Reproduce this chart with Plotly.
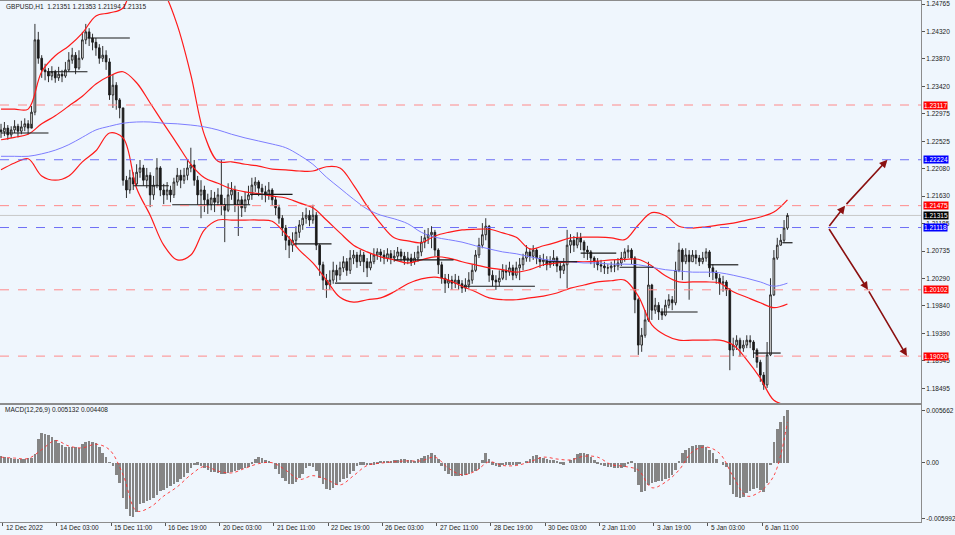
import plotly.graph_objects as go

# GBPUSD H1 chart, 12 Dec 2022 - 6 Jan 2023 (candles read as 2-hour bars)
simbolo = "GBPUSD,H1"
ultimo_ohlc = [1.21351, 1.21353, 1.21194, 1.21315]
macd_header = [0.005132, 0.004408]

primeiro_open = 1.2271
closes = [
    1.2268, 1.2274, 1.2263, 1.2271, 1.2277, 1.2269, 1.2276, 1.2281, 1.2274, 1.2300,
    1.2418, 1.2388, 1.2369, 1.2366, 1.2359, 1.2366, 1.2356, 1.2362, 1.2359, 1.2369,
    1.2385, 1.2393, 1.2372, 1.2388, 1.2418, 1.2431, 1.2421, 1.2414, 1.2405, 1.2388,
    1.2393, 1.2382, 1.2328, 1.2344, 1.2320, 1.2307, 1.2189, 1.2173, 1.2193, 1.2183,
    1.2202, 1.2209, 1.2189, 1.2197, 1.2165, 1.2181, 1.2209, 1.2173, 1.2165, 1.2173,
    1.2165, 1.2186, 1.2197, 1.2189, 1.2197, 1.2209, 1.2214, 1.2189, 1.2165, 1.2173,
    1.2157, 1.2149, 1.2160, 1.2153, 1.2165, 1.2149, 1.2140, 1.2165, 1.2173, 1.2149,
    1.2157, 1.2144, 1.2157, 1.2165, 1.2181, 1.2186, 1.2176, 1.2170, 1.2165, 1.2173,
    1.2157, 1.2144, 1.2127, 1.2111, 1.2091, 1.2083, 1.2091, 1.2104, 1.2116, 1.2127,
    1.2132, 1.2124, 1.2132, 1.2083, 1.2051, 1.2026, 1.2018, 1.2026, 1.2042, 1.2034,
    1.2046, 1.2056, 1.2042, 1.2062, 1.2067, 1.2056, 1.2067, 1.2056, 1.2046, 1.2056,
    1.2067, 1.2072, 1.2067, 1.2062, 1.2069, 1.2062, 1.2065, 1.2072, 1.2065, 1.2059,
    1.2062, 1.2056, 1.2062, 1.2072, 1.2088, 1.2095, 1.2100, 1.2104, 1.2075, 1.2051,
    1.2029, 1.2021, 1.2026, 1.2021, 1.2026, 1.2020, 1.2013, 1.2018, 1.2026, 1.2042,
    1.2067, 1.2083, 1.2100, 1.2114, 1.2034, 1.2026, 1.2023, 1.2029, 1.2042, 1.2039,
    1.2046, 1.2034, 1.2046, 1.2051, 1.2062, 1.2072, 1.2065, 1.2075, 1.2062, 1.2056,
    1.2059, 1.2051, 1.2056, 1.2062, 1.2049, 1.2042, 1.2051, 1.2083, 1.2091, 1.2083,
    1.2095, 1.2088, 1.2075, 1.2072, 1.2062, 1.2056, 1.2051, 1.2049, 1.2046, 1.2046,
    1.2049, 1.2049, 1.2054, 1.2062, 1.2072, 1.2075, 1.2062, 1.1994, 1.1920, 1.1936,
    1.1961, 1.2018, 1.1977, 1.1985, 1.1974, 1.1969, 1.1985, 1.1994, 1.1989, 1.2042,
    1.2075, 1.2056, 1.2067, 1.2056, 1.2067, 1.2062, 1.2056, 1.2062, 1.2072, 1.2046,
    1.2039, 1.2029, 1.2021, 1.2023, 1.2010, 1.1912, 1.1920, 1.1928, 1.1915, 1.1920,
    1.1928, 1.1925, 1.1912, 1.1892, 1.1871, 1.1855, 1.1904, 1.2002, 1.2062, 1.2083,
    1.2091, 1.2111, 1.21315,
]
highs = [
    1.2281, 1.2284, 1.2279, 1.2277, 1.2287, 1.2281, 1.2286, 1.2290, 1.2287, 1.2310,
    1.2444, 1.2431, 1.2393, 1.2379, 1.2372, 1.2375, 1.2369, 1.2374, 1.2369, 1.2382,
    1.2398, 1.2405, 1.2398, 1.2401, 1.2431, 1.2444, 1.2437, 1.2428, 1.2421, 1.2411,
    1.2408, 1.2401, 1.2388, 1.2362, 1.2349, 1.2323, 1.2307, 1.2196, 1.2206, 1.2202,
    1.2215, 1.2222, 1.2214, 1.2209, 1.2202, 1.2196, 1.2225, 1.2212, 1.2183, 1.2186,
    1.2180, 1.2193, 1.2209, 1.2206, 1.2209, 1.2222, 1.2242, 1.2222, 1.2196, 1.2189,
    1.2180, 1.2167, 1.2173, 1.2170, 1.2176, 1.2222, 1.2160, 1.2184, 1.2186, 1.2180,
    1.2170, 1.2163, 1.2170, 1.2180, 1.2193, 1.2194, 1.2189, 1.2183, 1.2180, 1.2186,
    1.2176, 1.2163, 1.2149, 1.2132, 1.2116, 1.2098, 1.2104, 1.2114, 1.2124, 1.2137,
    1.2144, 1.2140, 1.2149, 1.2137, 1.2085, 1.2056, 1.2036, 1.2042, 1.2056, 1.2051,
    1.2056, 1.2065, 1.2062, 1.2075, 1.2075, 1.2072, 1.2075, 1.2072, 1.2062, 1.2069,
    1.2078, 1.2078, 1.2077, 1.2075, 1.2078, 1.2075, 1.2075, 1.2080, 1.2077, 1.2072,
    1.2072, 1.2069, 1.2072, 1.2082, 1.2098, 1.2108, 1.2111, 1.2114, 1.2108, 1.2078,
    1.2056, 1.2036, 1.2036, 1.2033, 1.2036, 1.2033, 1.2026, 1.2029, 1.2039, 1.2052,
    1.2075, 1.2095, 1.2119, 1.2127, 1.2116, 1.2042, 1.2034, 1.2042, 1.2052, 1.2051,
    1.2056, 1.2051, 1.2056, 1.2062, 1.2069, 1.2083, 1.2078, 1.2083, 1.2078, 1.2067,
    1.2069, 1.2065, 1.2065, 1.2075, 1.2065, 1.2056, 1.2062, 1.2108, 1.2101, 1.2098,
    1.2104, 1.2103, 1.2091, 1.2082, 1.2075, 1.2065, 1.2062, 1.2059, 1.2056, 1.2052,
    1.2056, 1.2059, 1.2062, 1.2072, 1.2078, 1.2083, 1.2078, 1.2065, 1.1997, 1.1948,
    1.1977, 1.2056, 1.2020, 1.1997, 1.1990, 1.1980, 1.1994, 1.2003, 1.2000, 1.2056,
    1.2087, 1.2078, 1.2078, 1.2075, 1.2075, 1.2075, 1.2067, 1.2072, 1.2078, 1.2075,
    1.2052, 1.2042, 1.2036, 1.2033, 1.2026, 1.2013, 1.1932, 1.1936, 1.1932, 1.1928,
    1.1936, 1.1936, 1.1928, 1.1915, 1.1896, 1.1876, 1.1925, 1.2029, 1.2075, 1.2095,
    1.2101, 1.2124, 1.21353,
]
lows = [
    1.2258, 1.2261, 1.2255, 1.2258, 1.2266, 1.2259, 1.2264, 1.2269, 1.2264, 1.2281,
    1.2295, 1.2379, 1.2356, 1.2352, 1.2349, 1.2352, 1.2348, 1.2351, 1.2349, 1.2356,
    1.2366, 1.2379, 1.2362, 1.2369, 1.2385, 1.2411, 1.2408, 1.2401, 1.2392, 1.2379,
    1.2382, 1.2369, 1.2320, 1.2307, 1.2304, 1.2290, 1.2180, 1.2160, 1.2167, 1.2173,
    1.2180, 1.2193, 1.2180, 1.2176, 1.2145, 1.2157, 1.2176, 1.2163, 1.2150, 1.2157,
    1.2153, 1.2160, 1.2180, 1.2176, 1.2183, 1.2189, 1.2202, 1.2180, 1.2149, 1.2127,
    1.2137, 1.2134, 1.2140, 1.2137, 1.2147, 1.2132, 1.2088, 1.2137, 1.2157, 1.2137,
    1.2098, 1.2129, 1.2137, 1.2150, 1.2157, 1.2170, 1.2163, 1.2157, 1.2153, 1.2157,
    1.2147, 1.2132, 1.2118, 1.2098, 1.2075, 1.2062, 1.2072, 1.2082, 1.2095, 1.2108,
    1.2118, 1.2114, 1.2118, 1.2075, 1.2033, 1.2010, 1.1997, 1.2010, 1.2020, 1.2023,
    1.2026, 1.2039, 1.2033, 1.2036, 1.2052, 1.2046, 1.2049, 1.2039, 1.2031, 1.2042,
    1.2052, 1.2059, 1.2056, 1.2052, 1.2056, 1.2052, 1.2056, 1.2059, 1.2056, 1.2051,
    1.2052, 1.2049, 1.2051, 1.2056, 1.2065, 1.2078, 1.2085, 1.2078, 1.2065, 1.2036,
    1.2020, 1.2005, 1.2013, 1.2010, 1.2013, 1.2010, 1.2005, 1.2007, 1.2013, 1.2020,
    1.2039, 1.2062, 1.2078, 1.2091, 1.2023, 1.2016, 1.2010, 1.2016, 1.2026, 1.2026,
    1.2033, 1.2026, 1.2029, 1.2026, 1.2042, 1.2056, 1.2056, 1.2059, 1.2052, 1.2046,
    1.2049, 1.2042, 1.2046, 1.2049, 1.2039, 1.2029, 1.2036, 1.2013, 1.2070, 1.2072,
    1.2078, 1.2075, 1.2062, 1.2059, 1.2052, 1.2046, 1.2042, 1.2039, 1.2036, 1.2036,
    1.2039, 1.2039, 1.2042, 1.2049, 1.2056, 1.2062, 1.2052, 1.1972, 1.1904, 1.1909,
    1.1932, 1.1958, 1.1961, 1.1971, 1.1961, 1.1961, 1.1967, 1.1980, 1.1977, 1.1985,
    1.2039, 1.2026, 1.2052, 1.1994, 1.2056, 1.2052, 1.2049, 1.2052, 1.2056, 1.2031,
    1.2026, 1.2020, 1.2002, 1.2007, 1.2000, 1.1879, 1.1902, 1.1912, 1.1901, 1.1909,
    1.1915, 1.1915, 1.1899, 1.1883, 1.1860, 1.1847, 1.1850, 1.1902, 1.2000, 1.2059,
    1.2082, 1.2088, 1.2108,
]

# MACD main line (histogram), in units of 0.0001, one per candle
macd_pts = [
    7.5, 6, 5, 4.6, 4.4, 4.3, 4.3, 4.4, 4.8, 5.5,
    9, 26, 32, 31, 30, 28, 25, 21, 19, 17,
    17, 17, 16.5, 16, 20, 22, 23, 22.5, 21, 17,
    11, 6, 0.5, -4, -13, -22, -38, -50, -57, -59,
    -53, -45, -43, -41, -40, -38, -35, -31, -29, -27,
    -25, -23, -21, -18, -15, -11, -6, -3, -2, -4,
    -6, -8, -9.5, -10.5, -11, -12, -12, -11.5, -10, -9,
    -8, -7, -6, -5, -1, 4, 6, 5, 3, 1,
    0, -7, -12, -17, -20, -23, -23, -21, -17, -12,
    -6, -4, -5, -9, -17, -23, -28, -29, -27, -24,
    -21, -18, -16, -12, -9, -4, -2, -2, -3, -3,
    -2, -0.5, 1, 2, 2, 2, 2.5, 3, 3.5, 4,
    3, 2.5, 2, 3.5, 5, 7, 8.5, 10, 8, 4,
    -4, -9, -12, -14, -14, -14, -14, -13, -12, -10,
    -9, -7, 3, 10, 4, -2, -4, -5, -3, -2,
    -2, -2, -2, -1, 0, 2, 4, 7, 8, 6,
    5, 4, 3, 2.5, 2, -1, -2, 0, 3, 5,
    9, 10.5, 11, 9, 6, 3, -1, -3, -4, -4.5,
    -5, -5.5, -6, -5.5, -5, -1, 2, -10, -24, -32,
    -31, -24, -22, -21, -20, -20, -18, -16, -13, -8,
    2, 10, 14, 16, 18, 19, 19, 19, 17, 14,
    11, 4, 0, -2, -5, -24, -34, -37, -38, -37,
    -33, -30, -28, -27, -29, -32, -22, -3, 22, 36,
    44, 50, 56.6,
]
# signal line, every 4th candle, 0.0001 units
signal_pts = [
    6, 5, 4.5, 14, 24, 18, 16, 20, 14, -13,
    -52, -48, -36, -26, -13, -4, -9, -11, -6, -1,
    0, -8, -18, -14, -18, -24, -14, -3, -0.5, 1,
    2, 2, 6, -6, -13, -9, 1, -3, -3, 1,
    6, 4, 3, 7, 6, -2, -4, -8, -27, -21,
    -8, 12, 17, 10, -15, -36, -31, -14, 44,
]

# Bollinger bands and slow MA, every 4th candle
bb_superior = [
    1.2305, 1.2305, 1.2305, 1.2366, 1.2392, 1.2408, 1.2429, 1.2457, 1.2462, 1.2470,
    1.2524, 1.2519, 1.2496, 1.2442, 1.2361, 1.2263, 1.2220, 1.2219, 1.2215, 1.2212,
    1.2207, 1.2206, 1.2204, 1.2204, 1.2211, 1.2209, 1.2181, 1.2147, 1.2118, 1.2095,
    1.2090, 1.2087, 1.2098, 1.2104, 1.2108, 1.2109, 1.2109, 1.2103, 1.2096, 1.2077,
    1.2082, 1.2088, 1.2095, 1.2096, 1.2096, 1.2095, 1.2092, 1.2116, 1.2136, 1.2131,
    1.2114, 1.2111, 1.2113, 1.2116, 1.2119, 1.2124, 1.2129, 1.2137, 1.2157,
]
bb_media = [
    1.2255, 1.2259, 1.2264, 1.2281, 1.2294, 1.2310, 1.2326, 1.2346, 1.2359, 1.2366,
    1.2348, 1.2315, 1.2281, 1.2248, 1.2215, 1.2193, 1.2184, 1.2175, 1.2170, 1.2167,
    1.2163, 1.2160, 1.2152, 1.2144, 1.2124, 1.2103, 1.2083, 1.2072, 1.2064, 1.2059,
    1.2054, 1.2059, 1.2064, 1.2062, 1.2056, 1.2051, 1.2046, 1.2043, 1.2039, 1.2043,
    1.2051, 1.2054, 1.2056, 1.2056, 1.2057, 1.2059, 1.2060, 1.2060, 1.2049, 1.2033,
    1.2023, 1.2023, 1.2023, 1.2021, 1.2007, 1.1998, 1.1989, 1.1981, 1.1987,
]
bb_inferior = [
    1.2206, 1.2217, 1.2224, 1.2196, 1.2189, 1.2196, 1.2219, 1.2237, 1.2266, 1.2258,
    1.2176, 1.2132, 1.2083, 1.2059, 1.2067, 1.2108, 1.2124, 1.2124, 1.2124, 1.2124,
    1.2122, 1.2101, 1.2075, 1.2054, 1.2026, 1.1998, 1.1990, 1.1994, 1.1997, 1.2007,
    1.2020, 1.2028, 1.2031, 1.2026, 1.2016, 1.2007, 1.1997, 1.1994, 1.1994, 1.1997,
    1.2000, 1.2005, 1.2013, 1.2018, 1.2023, 1.2025, 1.2026, 1.2000, 1.1953, 1.1936,
    1.1928, 1.1928, 1.1928, 1.1928, 1.1920, 1.1896, 1.1866, 1.1830, 1.1822,
]
ma_lenta = [
    1.2228, 1.2228, 1.2228, 1.2232, 1.2238, 1.2247, 1.2259, 1.2271, 1.2277, 1.2282,
    1.2284, 1.2284, 1.2282, 1.2281, 1.2279, 1.2276, 1.2271, 1.2264, 1.2258, 1.2253,
    1.2248, 1.2242, 1.2230, 1.2215, 1.2194, 1.2176, 1.2158, 1.2142, 1.2132, 1.2126,
    1.2118, 1.2104, 1.2096, 1.2092, 1.2088, 1.2082, 1.2077, 1.2072, 1.2069, 1.2064,
    1.2060, 1.2057, 1.2056, 1.2054, 1.2054, 1.2052, 1.2052, 1.2051, 1.2047, 1.2043,
    1.2041, 1.2039, 1.2039, 1.2038, 1.2034, 1.2029, 1.2023, 1.2016, 1.2021,
]

# horizontal levels drawn on the chart
niveis = [1.23117, 1.22224, 1.21475, 1.21118, 1.20102, 1.19020]
niveis_cor = ["red", "blue", "red", "blue", "red", "red"]
preco_atual = 1.21315

# short black support/resistance segments: start bar, end bar (H1), price
seg_inicio = [0, 27, 51, 78, 101, 147, 173, 197, 232, 273, 322, 342, 365, 389, 417, 444, 461]
seg_fim = [28, 51, 76, 99, 147, 172, 195, 219, 267, 315, 340, 363, 385, 411, 435, 460, 467]
seg_preco = [1.2266, 1.2366, 1.2421, 1.2180, 1.2149, 1.2166, 1.2085, 1.2021, 1.2059,
             1.2016, 1.2056, 1.2070, 1.2047, 1.1974, 1.2051, 1.1907, 1.2087]

# projection arrows (H1 bar, price)
seta_cima_barras = [488, 498, 523]
seta_cima_precos = [1.21118, 1.21475, 1.22224]
seta_baixo_barras = [488, 511.5, 534.5]
seta_baixo_precos = [1.21118, 1.20102, 1.19020]

ticks_preco = [1.24765, 1.24320, 1.23870, 1.23420, 1.22975, 1.22525, 1.22080, 1.21630,
               1.21185, 1.20735, 1.20290, 1.19840, 1.19390, 1.18945, 1.18495]
ticks_macd = [0.005662, 0.0, -0.005992]
ticks_macd_txt = ["0.005662", "0.00", "-0.005992"]

datas_barras = [1, 33, 65, 97, 129, 161, 193, 225, 257, 289, 321, 353, 385, 417, 449]
datas_txt = ["12 Dec 2022", "14 Dec 03:00", "15 Dec 11:00", "16 Dec 19:00", "20 Dec 03:00",
             "21 Dec 11:00", "22 Dec 19:00", "26 Dec 03:00", "27 Dec 11:00", "28 Dec 19:00",
             "30 Dec 03:00", "2 Jan 11:00", "3 Jan 19:00", "5 Jan 03:00", "6 Jan 11:00"]


W, H = 955, 535
x_fim = 921 / W
fonte = "Liberation Sans, Arial, sans-serif"
fundo = "#eff6fd"

x_velas = list(range(0, 2 * len(closes), 2))
x_ind = list(range(0, 8 * len(bb_media), 8))
opens = [primeiro_open] + closes[:-1]
macd = [v / 10000 for v in macd_pts]
signal = [v / 10000 for v in signal_pts]

fig = go.Figure()

fig.add_trace(go.Candlestick(
    x=x_velas, open=opens, high=highs, low=lows, close=closes,
    increasing=dict(line=dict(color="#1a1a1a", width=0.9), fillcolor="#ffffff"),
    decreasing=dict(line=dict(color="#1a1a1a", width=0.9), fillcolor="#1a1a1a"),
    whiskerwidth=0, showlegend=False, hoverinfo="skip", xaxis="x", yaxis="y"))

for serie in [bb_superior, bb_media, bb_inferior]:
    fig.add_trace(go.Scatter(x=x_ind, y=serie, mode="lines",
                             line=dict(color="#ff1a1a", width=1.2, shape="spline"),
                             showlegend=False, hoverinfo="skip", xaxis="x", yaxis="y"))
fig.add_trace(go.Scatter(x=x_ind, y=ma_lenta, mode="lines",
                         line=dict(color="#7d7dff", width=1, shape="spline"),
                         showlegend=False, hoverinfo="skip", xaxis="x", yaxis="y"))

# black segments
sx, sy = [], []
for a, b, p in zip(seg_inicio, seg_fim, seg_preco):
    sx += [a, b, None]
    sy += [p, p, None]
fig.add_trace(go.Scatter(x=sx, y=sy, mode="lines", line=dict(color="#1a1a1a", width=1.2),
                         showlegend=False, hoverinfo="skip", xaxis="x", yaxis="y"))

# MACD pane
fig.add_trace(go.Bar(x=x_velas, y=macd, width=1.5, marker=dict(color="#858585", line=dict(width=0)),
                     showlegend=False, hoverinfo="skip", xaxis="x2", yaxis="y2"))
fig.add_trace(go.Scatter(x=x_ind, y=signal, mode="lines",
                         line=dict(color="#ff3030", width=0.9, dash="dot", shape="spline"),
                         showlegend=False, hoverinfo="skip", xaxis="x2", yaxis="y2"))

cores_linha = {"red": "#ff8a8a", "blue": "#6e6ef5"}
cores_caixa = {"red": "#ff0000", "blue": "#0000ff"}

shapes = []
shapes.append(dict(type="line", xref="x domain", yref="y", x0=0, x1=1, y0=preco_atual, y1=preco_atual,
                   line=dict(color="#c8c8c8", width=1), layer="below"))
for p, c in zip(niveis, niveis_cor):
    shapes.append(dict(type="line", xref="x domain", yref="y", x0=0, x1=1, y0=p, y1=p,
                       line=dict(color=cores_linha[c], width=1, dash="dash")))

anots = []
anots.append(dict(x=0.004, y=(H - 6) / H, xref="paper", yref="paper", xanchor="left", yanchor="middle",
                  text=simbolo + "  " + " ".join("%.5f" % v for v in ultimo_ohlc),
                  showarrow=False, font=dict(size=6.5, color="#222222", family=fonte)))
anots.append(dict(x=0.003, y=(H - 410) / H, xref="paper", yref="paper", xanchor="left", yanchor="middle",
                  text="MACD(12,26,9) %.6f %.6f" % tuple(macd_header),
                  showarrow=False, font=dict(size=6.5, color="#222222", family=fonte)))

for p, c in zip(niveis, niveis_cor):
    anots.append(dict(x=x_fim + 2 / W, y=p, xref="paper", yref="y", xanchor="left", yanchor="middle",
                      text="%.5f" % p, showarrow=False, bgcolor=cores_caixa[c], borderpad=0,
                      font=dict(size=6.5, color="#ffffff", family=fonte)))
anots.append(dict(x=x_fim + 2 / W, y=preco_atual, xref="paper", yref="y", xanchor="left", yanchor="middle",
                  text="%.5f" % preco_atual, showarrow=False, bgcolor="#000000", borderpad=0,
                  font=dict(size=6.5, color="#ffffff", family=fonte)))

for b, t in zip(datas_barras, datas_txt):
    anots.append(dict(x=b, y=(H - 522) / H, xref="x2", yref="paper", xanchor="left", yanchor="top",
                      xshift=1, text=t, showarrow=False, font=dict(size=6.5, color="#222222", family=fonte)))

for barras, precos in [(seta_cima_barras, seta_cima_precos), (seta_baixo_barras, seta_baixo_precos)]:
    for i in range(1, len(barras)):
        anots.append(dict(x=barras[i], y=precos[i], ax=barras[i - 1], ay=precos[i - 1],
                          xref="x", yref="y", axref="x", ayref="y", text="", showarrow=True,
                          arrowhead=2, arrowsize=1, arrowwidth=1.6, arrowcolor="#8b1010"))

faixa_x = [-0.6, 542.8]
eixo = dict(showgrid=False, zeroline=False, showline=True, mirror=True, linecolor="#8c8c8c", linewidth=1)

fig.update_layout(
    width=W, height=H,
    margin=dict(l=0, r=0, t=0, b=0),
    paper_bgcolor=fundo, plot_bgcolor=fundo,
    font=dict(family=fonte, size=6.5, color="#222222"),
    shapes=shapes, annotations=anots, bargap=0,
    xaxis=dict(domain=[0, x_fim], range=faixa_x, anchor="y", showticklabels=False, ticks="",
               rangeslider=dict(visible=False), **eixo),
    yaxis=dict(domain=[(H - 403) / H, (H - 1) / H], range=[1.18255, 1.24814], side="right", anchor="x",
               tickvals=ticks_preco, ticktext=["%.5f" % v for v in ticks_preco],
               ticks="outside", ticklen=3, tickcolor="#555555", automargin=False, **eixo),
    xaxis2=dict(domain=[0, x_fim], range=faixa_x, anchor="y2", matches="x", showticklabels=False,
                tickvals=datas_barras, ticks="outside", ticklen=3, tickcolor="#555555", **eixo),
    yaxis2=dict(domain=[(H - 522) / H, (H - 405) / H], range=[-0.0064, 0.00623], side="right", anchor="x2",
                tickvals=ticks_macd, ticktext=ticks_macd_txt, ticks="outside", ticklen=3,
                tickcolor="#555555", automargin=False, **eixo),
)

# page without the default body margin so the chart fills the window
fig.write_html("out.html", config={"displayModeBar": False},
               post_script="document.body.style.margin='0';document.body.style.overflow='hidden';")
